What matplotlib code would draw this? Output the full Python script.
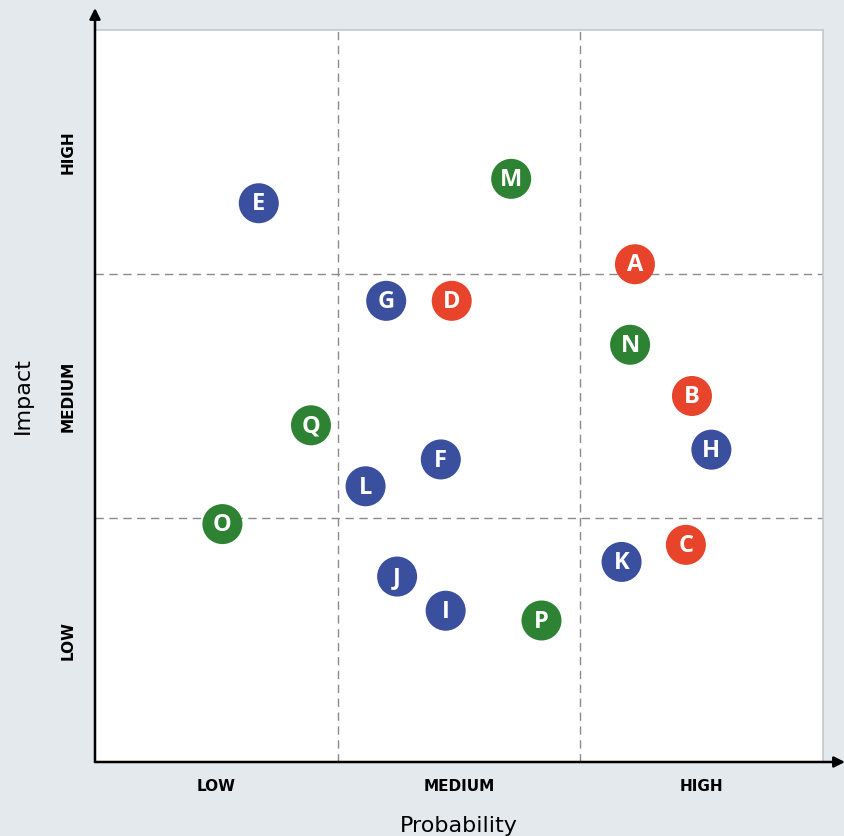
import matplotlib.pyplot as plt

# risk items: label, probability, impact, group
labels = ['A', 'B', 'C', 'D', 'E', 'F', 'G', 'H', 'I', 'J', 'K', 'L', 'M', 'N', 'O', 'P', 'Q']
probability = [2.225, 2.46, 2.435, 1.47, 0.675, 1.425, 1.20, 2.54, 1.445, 1.245, 2.17, 1.115, 1.715, 2.205, 0.525, 1.84, 0.89]
impact = [2.04, 1.50, 0.89, 1.89, 2.29, 1.24, 1.89, 1.28, 0.62, 0.76, 0.82, 1.13, 2.39, 1.71, 0.975, 0.58, 1.38]
groups = ['r', 'r', 'r', 'r', 'b', 'b', 'b', 'b', 'b', 'b', 'b', 'b', 'g', 'g', 'g', 'g', 'g']
level_names = ['LOW', 'MEDIUM', 'HIGH']

colors = {'r': '#e8432b', 'b': '#3b4f9f', 'g': '#2e8233'}
bg = '#e4e9ee'

fig = plt.figure(figsize=(8.45, 8.36), dpi=100, facecolor=bg)
ax = fig.add_axes([95/845, 1-762/836, (823-95)/845, (762-30)/836])
ax.set_facecolor('white')
ax.set_xlim(0, 3)
ax.set_ylim(0, 3)

# quadrant grid
for v in [1, 2]:
    ax.axvline(v, color='#8a8a8a', lw=1, ls=(0, (6, 4)), zorder=1)
    ax.axhline(v, color='#8a8a8a', lw=1, ls=(0, (6, 4)), zorder=1)

for s in ['top', 'right']:
    ax.spines[s].set_color('#c4c8cc')
    ax.spines[s].set_linewidth(1.2)
for s in ['left', 'bottom']:
    ax.spines[s].set_visible(False)

# arrowed axes
ax.annotate('', xy=(845/845, 1-762/836), xytext=(95/845, 1-762/836), xycoords='figure fraction',
            arrowprops=dict(arrowstyle='-|>', color='black', lw=1.8, mutation_scale=16, shrinkA=0, shrinkB=0))
ax.annotate('', xy=(95/845, 1-8/836), xytext=(95/845, 1-762/836), xycoords='figure fraction',
            arrowprops=dict(arrowstyle='-|>', color='black', lw=1.8, mutation_scale=16, shrinkA=0, shrinkB=0))

for lab, x, y, g in zip(labels, probability, impact, groups):
    ax.scatter(x, y, s=830, color=colors[g], edgecolors='none', zorder=3)
    ax.text(x, y - 0.005, lab, color='white', fontsize=17, fontweight='bold', family='Open Sans',
            ha='center', va='center', zorder=4)

ax.set_xticks([0.5, 1.5, 2.5])
ax.set_yticks([0.5, 1.5, 2.5])
ax.set_xticklabels(level_names, fontsize=11, fontweight='bold', family='DejaVu Sans')
ax.set_yticklabels(level_names, fontsize=11, fontweight='bold', family='DejaVu Sans', rotation=90, va='center')
ax.tick_params(axis='x', length=0, pad=12)
ax.tick_params(axis='y', length=0, pad=14)

ax.set_xlabel('Probability', fontsize=16, labelpad=16)
ax.set_ylabel('Impact', fontsize=16, labelpad=20)

fig.savefig('out.png', dpi=100, facecolor=bg)
